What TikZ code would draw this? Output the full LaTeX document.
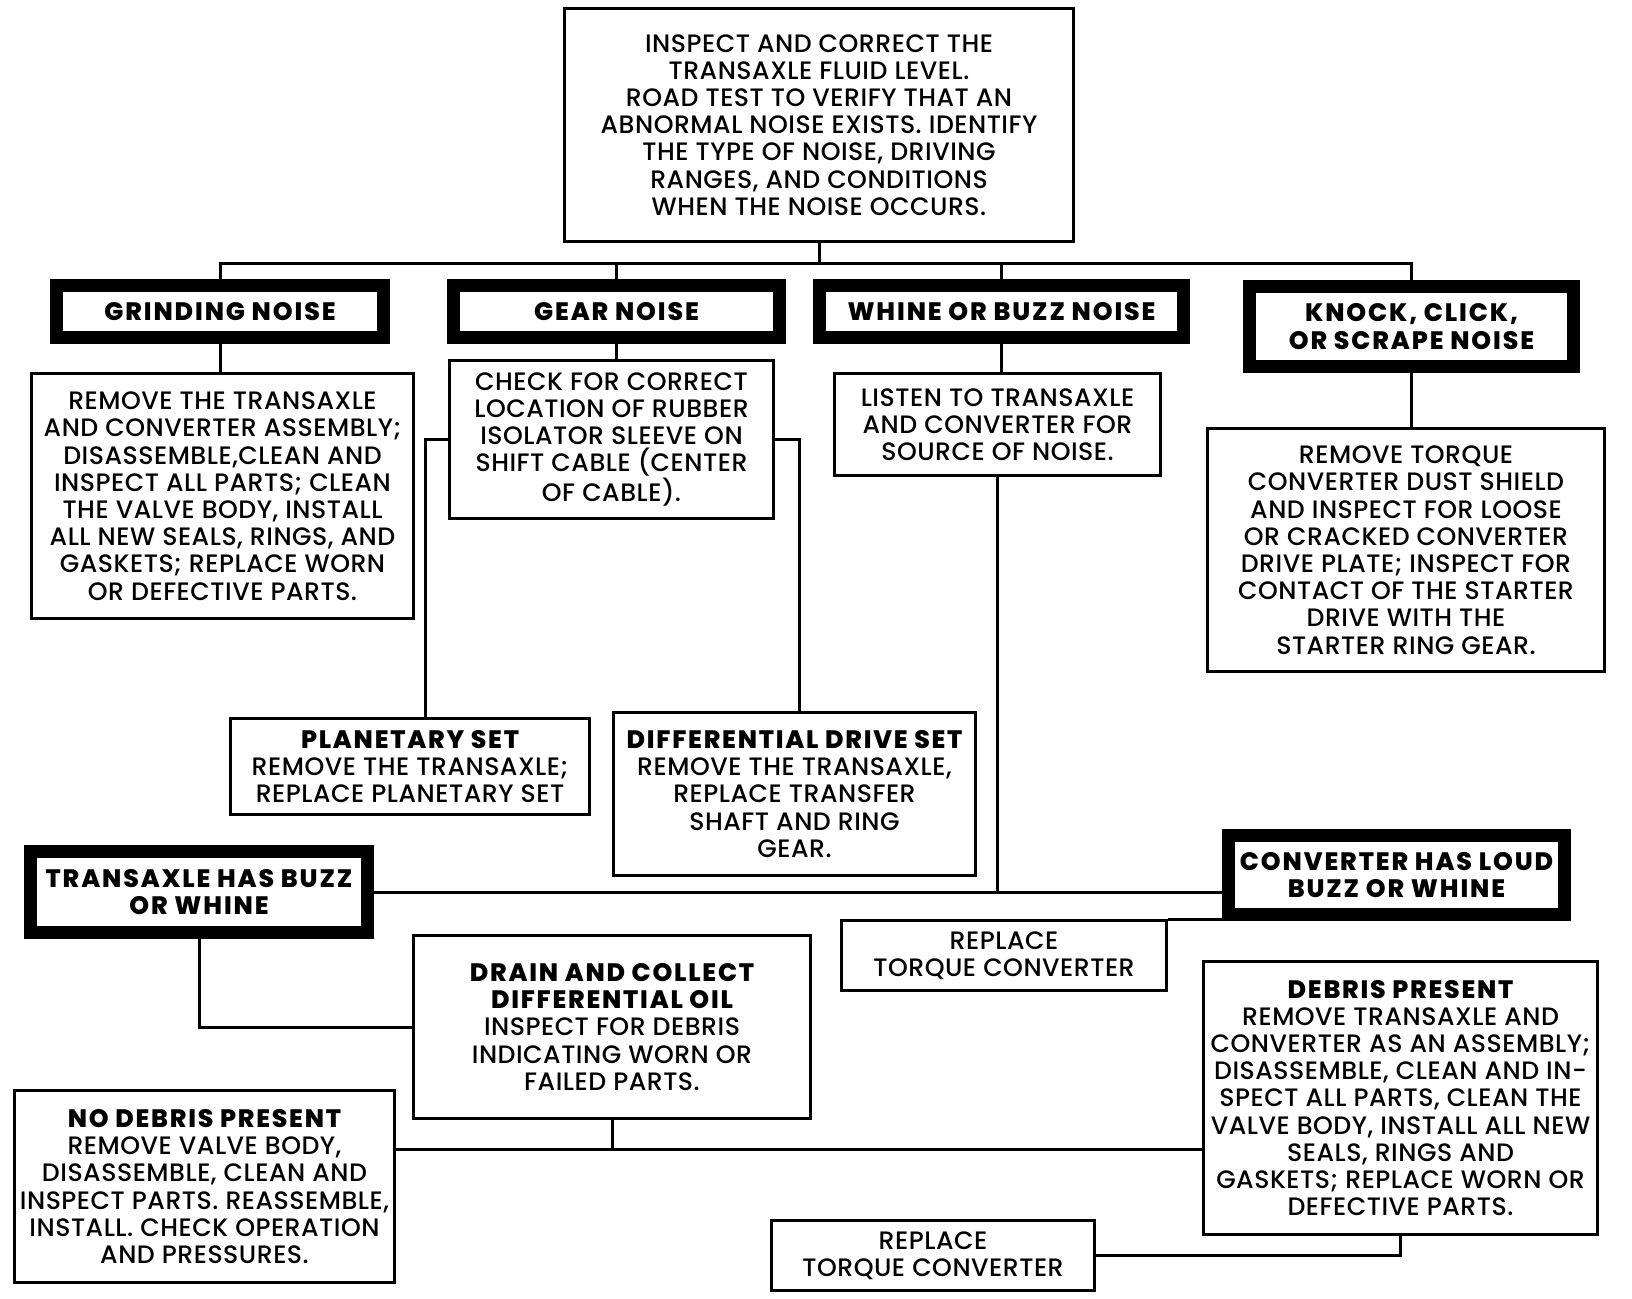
\documentclass[tikz,border=0pt]{standalone}
\usepackage{fontspec}
\setmainfont{Poppins}[UprightFont={* Medium}, BoldFont={* ExtraBold}]
\usetikzlibrary{calc}

\tikzset{
  actbox/.style={draw, line width=1.5pt, align=center, inner sep=0pt,
    font=\fontsize{12.6}{13.6}\selectfont\addfontfeature{LetterSpace=2}},
  headbox/.style={actbox, line width=6.5pt, font=\fontsize{12.6}{13.6}\selectfont\bfseries\addfontfeature{LetterSpace=7.5}},
  link/.style={line width=1.5pt}
}
\newcommand\hd[1]{{\bfseries\addfontfeature{LetterSpace=7}#1}}

\begin{document}
\begin{tikzpicture}[x=0.5pt,y=-0.5pt]
      \useasboundingbox (0,0) rectangle (1632,1298);
      % first check
      \node[actbox, minimum width=254.5pt, minimum height=116.5pt] (top) at (819,125)
        {INSPECT AND CORRECT THE\\TRANSAXLE FLUID LEVEL.\\ROAD TEST TO VERIFY THAT AN\\ABNORMAL NOISE EXISTS. IDENTIFY\\THE TYPE OF NOISE, DRIVING\\RANGES, AND CONDITIONS\\WHEN THE NOISE OCCURS.};
      % kinds of noise
      \node[headbox, minimum width=163.5pt, minimum height=26pt] (grind) at (220,311.5) {GRINDING NOISE};
      \node[headbox, minimum width=163pt, minimum height=26pt] (gear) at (616.5,311.5) {GEAR NOISE};
      \node[headbox, minimum width=182pt, minimum height=26pt] (whine) at (1001.5,311.5) {WHINE OR BUZZ NOISE};
      \node[headbox, minimum width=162pt, minimum height=40pt] (knock) at (1411.5,326.5) {KNOCK, CLICK,\\OR SCRAPE NOISE};
      % what to do for each
      \node[actbox, minimum width=191pt, minimum height=122.5pt] (grindact) at (222.5,496)
        {REMOVE THE TRANSAXLE\\AND CONVERTER ASSEMBLY;\\DISASSEMBLE,CLEAN AND\\INSPECT ALL PARTS; CLEAN\\THE VALVE BODY, INSTALL\\ALL NEW SEALS, RINGS, AND\\GASKETS; REPLACE WORN\\OR DEFECTIVE PARTS.};
      \node[actbox, minimum width=162pt, minimum height=79pt] (gearact) at (611.5,439.5)
        {CHECK FOR CORRECT\\LOCATION OF RUBBER\\ISOLATOR SLEEVE ON\\SHIFT CABLE (CENTER\\OF CABLE).};
      \node[actbox, minimum width=163pt, minimum height=51pt] (whineact) at (997.5,424.5)
        {LISTEN TO TRANSAXLE\\AND CONVERTER FOR\\SOURCE OF NOISE.};
      \node[actbox, minimum width=198.5pt, minimum height=121.5pt] (knockact) at (1406,550)
        {REMOVE TORQUE\\CONVERTER DUST SHIELD\\AND INSPECT FOR LOOSE\\OR CRACKED CONVERTER\\DRIVE PLATE; INSPECT FOR\\CONTACT OF THE STARTER\\DRIVE WITH THE\\STARTER RING GEAR.};
      \node[actbox, minimum width=179.5pt, minimum height=48pt] (planet) at (410,766.5)
        {\hd{PLANETARY SET}\\REMOVE THE TRANSAXLE;\\REPLACE PLANETARY SET};
      \node[actbox, minimum width=181pt, minimum height=81.5pt] (diff) at (794.5,794)
        {\hd{DIFFERENTIAL DRIVE SET}\\REMOVE THE TRANSAXLE,\\REPLACE TRANSFER\\SHAFT AND RING\\GEAR.};
      % buzz or whine
      \node[headbox, minimum width=168.5pt, minimum height=40.5pt] (trans) at (199,892) {TRANSAXLE HAS BUZZ\\OR WHINE};
      \node[headbox, minimum width=168pt, minimum height=39.5pt] (conv) at (1396.5,875) {CONVERTER HAS LOUD\\BUZZ OR WHINE};
      \node[actbox, minimum width=162.5pt, minimum height=35pt] (rtca) at (1004,955.5) {REPLACE\\TORQUE CONVERTER};
      \node[actbox, minimum width=198.5pt, minimum height=91.5pt] (drain) at (612,1027)
        {\hd{DRAIN AND COLLECT}\\\hd{DIFFERENTIAL OIL}\\INSPECT FOR DEBRIS\\INDICATING WORN OR\\FAILED PARTS.};
      \node[actbox, minimum width=190pt, minimum height=96pt] (nodebris) at (204.5,1186.5)
        {\hd{NO DEBRIS PRESENT}\\REMOVE VALVE BODY,\\DISASSEMBLE, CLEAN AND\\INSPECT PARTS. REASSEMBLE,\\INSTALL. CHECK OPERATION\\AND PRESSURES.};
      \node[actbox, minimum width=197pt, minimum height=136.5pt] (debris) at (1400.5,1098)
        {\hd{DEBRIS PRESENT}\\REMOVE TRANSAXLE AND\\CONVERTER AS AN ASSEMBLY;\\DISASSEMBLE, CLEAN AND IN-\\SPECT ALL PARTS, CLEAN THE\\VALVE BODY, INSTALL ALL NEW\\SEALS, RINGS AND\\GASKETS; REPLACE WORN OR\\DEFECTIVE PARTS.};
      \node[actbox, minimum width=161.5pt, minimum height=35pt] (rtcb) at (933,1255.5) {REPLACE\\TORQUE CONVERTER};
      % lines
      \coordinate (bus) at (815,263);
      \draw[link] (top.south) -- (top.south |- bus);
      \draw[link] (grind.north) |- (bus) -| (knock.north);
      \draw[link] (gear.north) -- (gear.north |- bus);
      \draw[link] (whine.north) -- (whine.north |- bus);
      \draw[link] (grind.south) -- (grind.south |- grindact.north);
      \draw[link] (gear.south) -- (gear.south |- gearact.north);
      \draw[link] (whine.south) -- (whine.south |- whineact.north);
      \draw[link] (knock.south) -- (knock.south |- knockact.north);
      \draw[link] (gearact.west) -- ++(-23,0) coordinate (gl) -- (gl |- planet.north);
      \draw[link] (gearact.east) -- ++(24,0) coordinate (gr) -- (gr |- diff.north);
      \draw[link] (trans.east) -- (trans.east -| conv.west);
      \draw[link] (whineact.south) -- (whineact.south |- trans.east);
      \draw[link] (rtca.north east) -- (rtca.north east -| conv.west);
      \draw[link] (trans.south) |- (drain.west);
      \draw[link] (drain.south) -- ++(0,29) coordinate (dj);
      \draw[link] (dj -| nodebris.east) -- (dj -| debris.west);
      \draw[link] (debris.south) |- (rtcb.east);
\end{tikzpicture}
\end{document}
